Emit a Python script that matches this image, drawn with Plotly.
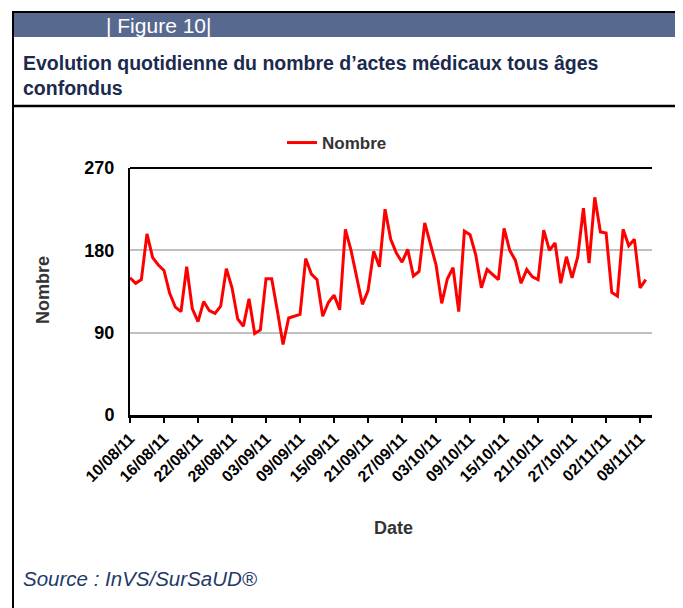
import plotly.graph_objects as go
import pandas as pd

start_date = "2011-08-10"
values = [150, 144, 148, 198, 172, 164, 158, 133, 118, 113,
          162, 116, 102, 124, 114, 111, 119, 160, 139, 105,
          97, 127, 89, 93, 149, 149, 114, 77, 106, 108,
          110, 171, 154, 148, 108, 123, 131, 115, 203, 180,
          150, 121, 136, 179, 162, 225, 192, 177, 167, 181,
          152, 157, 210, 186, 164, 122, 149, 161, 113, 201,
          197, 175, 139, 159, 154, 148, 204, 180, 169, 144,
          159, 151, 148, 202, 180, 188, 144, 173, 150, 173,
          226, 166, 238, 200, 199, 134, 130, 203, 185, 192,
          139, 148]
dates = pd.date_range(start_date, periods=len(values), freq="D")
tick_dates = pd.date_range(start_date, "2011-11-08", freq="6D")
tick_labels = [d.strftime("%d/%m/%y") for d in tick_dates]
y_ticks = [0, 90, 180, 270]

OFF = 8  # page body margin
W, H = 683, 608
L, T = 130 - OFF, 168 - OFF
R = W - (652 - OFF)
B = H - (415 - OFF)
PW, PH = W - L - R, H - T - B

FONT = "Liberation Sans, Arial, sans-serif"


def px(x):
    return (x - OFF - L) / PW


def py(y):
    return (H - B - (y - OFF)) / PH


fig = go.Figure()
fig.add_trace(go.Scatter(x=dates, y=values, mode="lines", name="<b>Nombre</b>",
                         line=dict(color="#FF0000", width=3)))

fig.update_layout(
    width=W, height=H,
    margin=dict(l=L, r=R, t=T, b=B),
    paper_bgcolor="white", plot_bgcolor="white",
    font=dict(family=FONT, color="#000000"),
    showlegend=True,
    legend=dict(orientation="h", x=px(282), y=py(143), xanchor="left", yanchor="middle",
                font=dict(size=17, color="#333333", family=FONT),
                bgcolor="rgba(0,0,0,0)"),
    xaxis=dict(
        range=[pd.Timestamp(start_date), pd.Timestamp(start_date) + pd.Timedelta(days=92.1)],
        tickvals=tick_dates, ticktext=["<b>%s</b>" % t for t in tick_labels], tickangle=-45,
        tickfont=dict(size=16, family=FONT, color="#000000"),
        ticks="outside", ticklen=5, tickwidth=2, tickcolor="#000000",
        showline=True, linecolor="#000000", linewidth=2.5, mirror=False,
        showgrid=False, zeroline=False,
    ),
    yaxis=dict(
        range=[0, 270], tickvals=y_ticks, ticktext=["<b>%d</b>" % v for v in y_ticks],
        tickfont=dict(size=18, color="#000000", family=FONT),
        showline=True, linecolor="#000000", linewidth=2,
        showgrid=True, gridcolor="#C0C0C0", gridwidth=2,
        zeroline=False, ticks="", ticklabelstandoff=10,
    ),
)

shapes = []
# top border of plot
shapes.append(dict(type="line", xref="paper", yref="paper", x0=0, x1=1, y0=1, y1=1,
                   line=dict(color="#000000", width=2)))
# header bar
shapes.append(dict(type="rect", xref="paper", yref="paper", x0=px(12), x1=px(700), y0=py(37), y1=py(12),
                   fillcolor="#58698F", line=dict(width=0), layer="above"))
shapes.append(dict(type="line", xref="paper", yref="paper", x0=px(12), x1=px(700), y0=py(12), y1=py(12),
                   line=dict(color="#000000", width=2)))
shapes.append(dict(type="line", xref="paper", yref="paper", x0=px(676), x1=px(676), y0=py(37), y1=py(12),
                   line=dict(color="#B8C0D0", width=1)))
# separator below title
shapes.append(dict(type="line", xref="paper", yref="paper", x0=px(12), x1=px(700), y0=py(106), y1=py(106),
                   line=dict(color="#000000", width=2.5)))
# left frame border
shapes.append(dict(type="line", xref="paper", yref="paper", x0=px(13), x1=px(13), y0=py(11), y1=py(620),
                   line=dict(color="#000000", width=2)))
fig.update_layout(shapes=shapes)

annos = [
    dict(text="| Figure 10|", x=px(104), y=py(25), xanchor="left", yanchor="middle",
         font=dict(size=21, color="white", family=FONT)),
    dict(text="<b>Evolution quotidienne du nombre d’actes médicaux tous âges<br>confondus</b>",
         x=px(21), y=py(75), xanchor="left", yanchor="middle", align="left",
         font=dict(size=19.5, color="#1B2A4E", family=FONT)),
    dict(text="<b>Nombre</b>", x=px(43), y=py(290), textangle=-90, xanchor="center", yanchor="middle",
         font=dict(size=18, color="#333333", family=FONT)),
    dict(text="<b>Date</b>", x=px(393), y=py(528), xanchor="center", yanchor="middle",
         font=dict(size=18, color="#333333", family=FONT)),
    dict(text="<i>Source : InVS/SurSaUD®</i>", x=px(21), y=py(578), xanchor="left", yanchor="middle",
         font=dict(size=20.5, color="#1F3A68", family=FONT)),
]
for a in annos:
    a.update(xref="paper", yref="paper", showarrow=False)
fig.update_layout(annotations=annos)

fig.write_html("out.html")
